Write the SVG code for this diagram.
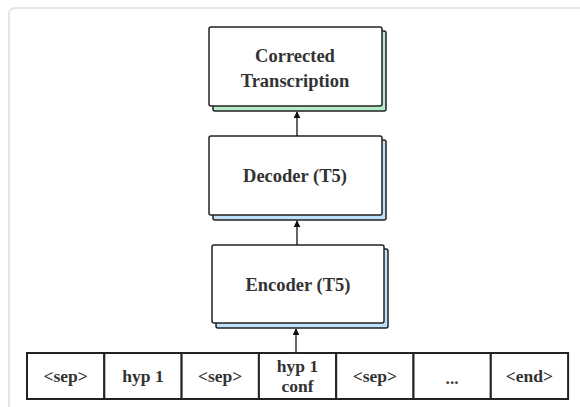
<svg xmlns="http://www.w3.org/2000/svg" width="580" height="407" viewBox="0 0 580 407">
<defs>
<style>
.frame{fill:#ffffff;stroke:#e6e6e6;stroke-width:2}
.box{fill:#ffffff;stroke:#222;stroke-width:1.5}
.sh-g{fill:#b4edc9;stroke:#222;stroke-width:1.5}
.sh-b{fill:#bfe0fa;stroke:#222;stroke-width:1.5}
.cell{fill:#ffffff;stroke:#222;stroke-width:2}
.t{font-family:"Liberation Serif","DejaVu Serif",serif;font-weight:bold;fill:#333;text-anchor:middle;dominant-baseline:central}
.big{font-size:18.5px}
.sm{font-size:17.5px}
.conn{stroke:#111;stroke-width:1.3;fill:none}
</style>
<marker id="arr" viewBox="0 0 10 10" refX="9" refY="5" markerWidth="7" markerHeight="7" orient="auto" markerUnits="userSpaceOnUse">
<path d="M0,0 L10,5 L0,10 z" fill="#111"/>
</marker>
</defs>
<rect class="frame" x="9" y="8" width="590" height="420" rx="6"/>
<g id="corrected">
<rect class="sh-g" x="213" y="31" width="173" height="80" rx="2"/>
<rect class="box" x="209" y="27" width="173" height="79" rx="2"/>
<text class="t big" x="295" y="56">Corrected</text>
<text class="t big" x="295" y="81">Transcription</text>
</g>
<g id="decoder">
<rect class="sh-b" x="213" y="140" width="173" height="80" rx="2"/>
<rect class="box" x="209" y="136" width="173" height="79" rx="2"/>
<text class="t big" x="295" y="176">Decoder (T5)</text>
</g>
<g id="encoder">
<rect class="sh-b" x="216" y="249" width="172" height="79" rx="2"/>
<rect class="box" x="212" y="245" width="172" height="78" rx="2"/>
<text class="t big" x="298" y="285">Encoder (T5)</text>
</g>
<g id="tokens">
<g id="tok1"><rect class="cell" x="27" y="353" width="77.3" height="46"/><text class="t sm" x="65.6" y="376">&lt;sep&gt;</text></g>
<g id="tok2"><rect class="cell" x="104.3" y="353" width="77.3" height="46"/><text class="t sm" x="143" y="376">hyp 1</text></g>
<g id="tok3"><rect class="cell" x="181.6" y="353" width="77.3" height="46"/><text class="t sm" x="220.2" y="376">&lt;sep&gt;</text></g>
<g id="tok4"><rect class="cell" x="258.9" y="353" width="77.3" height="46"/><text class="t sm" x="297.5" y="366">hyp 1</text><text class="t sm" x="297.5" y="386">conf</text></g>
<g id="tok5"><rect class="cell" x="336.2" y="353" width="77.3" height="46"/><text class="t sm" x="374.8" y="376">&lt;sep&gt;</text></g>
<g id="tok6"><rect class="cell" x="413.5" y="353" width="77.3" height="46"/><text class="t sm" x="452.1" y="378">...</text></g>
<g id="tok7"><rect class="cell" x="490.8" y="353" width="77.3" height="46"/><text class="t sm" x="529.4" y="376">&lt;end&gt;</text></g>
</g>
<g id="connectors">
<line class="conn" x1="296" y1="353" x2="296" y2="329" marker-end="url(#arr)"/>
<line class="conn" x1="297" y1="245" x2="297" y2="221" marker-end="url(#arr)"/>
<line class="conn" x1="297" y1="136" x2="297" y2="112" marker-end="url(#arr)"/>
</g>
</svg>
